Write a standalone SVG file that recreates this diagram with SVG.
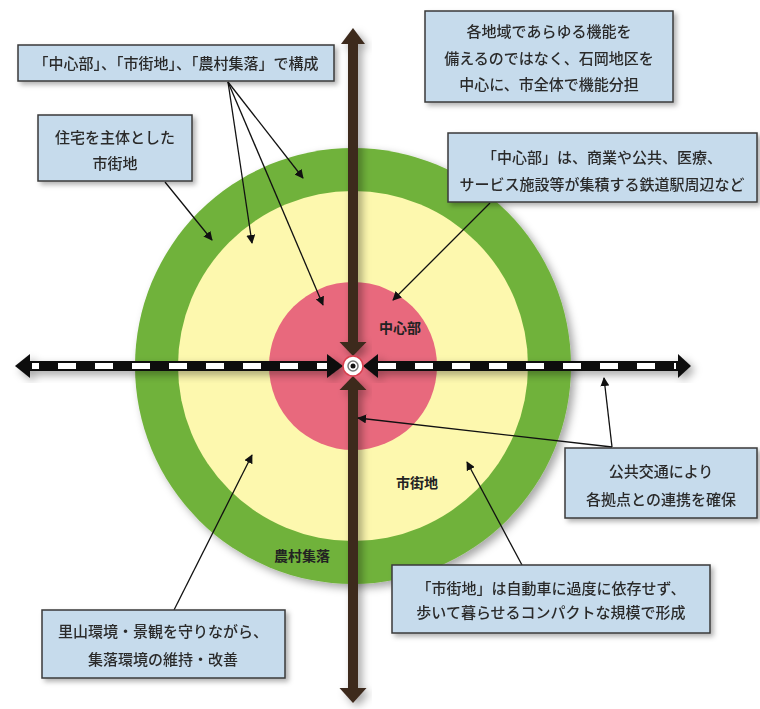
<svg xmlns="http://www.w3.org/2000/svg" width="760" height="709" viewBox="0 0 760 709">
<defs>
<style>
.box{fill:#c6dbec;stroke:#3a3a3a;stroke-width:1.5}
.t{font-family:"Noto Sans CJK JP","Noto Sans",sans-serif;font-size:15px;fill:#2b2b2b;text-anchor:middle;font-weight:500}
.lbl{font-family:"Noto Sans CJK JP","Noto Sans",sans-serif;font-size:14px;fill:#222;text-anchor:middle;font-weight:700}
.con{stroke:#111;stroke-width:1.3;fill:none;marker-end:url(#ah)}
.brown{fill:#3e2a1f}
</style>
<marker id="ah" viewBox="0 0 10 10" refX="9" refY="5" markerWidth="9" markerHeight="9" markerUnits="userSpaceOnUse" orient="auto">
<path d="M0,0 L10,5 L0,10 Z" fill="#111"/>
</marker>
<filter id="sh" x="-20%" y="-20%" width="140%" height="140%">
<feDropShadow dx="4" dy="4" stdDeviation="4" flood-color="#000" flood-opacity="0.35"/>
</filter>
<filter id="shs" x="-20%" y="-50%" width="140%" height="200%">
<feDropShadow dx="3" dy="3" stdDeviation="2.5" flood-color="#000" flood-opacity="0.3"/>
</filter>
</defs>
<g id="rings">
<circle cx="353" cy="366" r="218" fill="#70b23b" filter="url(#sh)"/>
<circle cx="353" cy="366" r="175" fill="#fdf8ae"/>
<circle cx="353" cy="366" r="84" fill="#e8697d"/>
</g>
<g id="rail" filter="url(#sh)">
<rect x="30" y="361" width="297" height="10" fill="#111"/>
<rect x="378" y="361" width="300" height="10" fill="#111"/>
<line x1="32" y1="366" x2="327" y2="366" stroke="#fff" stroke-width="6" stroke-dasharray="7 19 18 19 18 19 18 19 18 19 18 19 18 19 18 19 18 19 18 19 18 19"/>
<line x1="378" y1="366" x2="676" y2="366" stroke="#fff" stroke-width="6" stroke-dasharray="18 19"/>
<path d="M15,366 L30,354 L30,378 Z" fill="#111"/>
<path d="M343,366 L327,354 L327,378 Z" fill="#111"/>
<path d="M363,366 L378,354 L378,378 Z" fill="#111"/>
<path d="M691,366 L678,354 L678,378 Z" fill="#111"/>
</g>
<g id="axis" filter="url(#sh)">
<rect class="brown" x="348" y="43" width="10" height="300"/>
<path class="brown" d="M353,28 L365,44 L341,44 Z"/>
<path class="brown" d="M353,356 L366.5,342 L339.5,342 Z"/>
<rect class="brown" x="348" y="389" width="10" height="300"/>
<path class="brown" d="M353,376 L366.5,390 L339.5,390 Z"/>
<path class="brown" d="M353,703 L366.5,688 L339.5,688 Z"/>
</g>
<g id="hub">
<circle cx="353" cy="366" r="10" fill="#fff" stroke="#d9404f" stroke-width="1.5"/>
<circle cx="353" cy="366" r="5" fill="#fff" stroke="#777" stroke-width="1.5"/>
<circle cx="353" cy="366" r="2.5" fill="#111"/>
</g>
<g id="labels">
<text class="lbl" x="400" y="333">中心部</text>
<text class="lbl" x="417" y="488">市街地</text>
<text class="lbl" x="302" y="561">農村集落</text>
</g>
<g id="connectors">
<line class="con" x1="228" y1="82" x2="303" y2="178"/>
<line class="con" x1="228" y1="82" x2="252" y2="243"/>
<line class="con" x1="228" y1="82" x2="323" y2="305"/>
<line class="con" x1="165" y1="182" x2="212" y2="240"/>
<line class="con" x1="490" y1="203" x2="393" y2="300"/>
<line class="con" x1="612" y1="447" x2="604" y2="378"/>
<line class="con" x1="612" y1="447" x2="358" y2="418"/>
<line class="con" x1="522" y1="565" x2="467" y2="462"/>
<line class="con" x1="174" y1="610" x2="252" y2="455"/>
</g>
<g id="box-kousei" filter="url(#shs)">
<rect class="box" x="18" y="45" width="316" height="36"/>
<text class="t" x="176" y="68.5">「中心部」、「市街地」、「農村集落」で構成</text>
</g>
<g id="box-kinou" filter="url(#shs)">
<rect class="box" x="425" y="11" width="248" height="91"/>
<text class="t" x="549" y="37">各地域であらゆる機能を</text>
<text class="t" x="549" y="64">備えるのではなく、石岡地区を</text>
<text class="t" x="549" y="90">中心に、市全体で機能分担</text>
</g>
<g id="box-jutaku" filter="url(#shs)">
<rect class="box" x="38" y="115" width="154" height="66"/>
<text class="t" x="115" y="143">住宅を主体とした</text>
<text class="t" x="115" y="169">市街地</text>
</g>
<g id="box-chushin" filter="url(#shs)">
<rect class="box" x="448" y="133" width="309" height="69"/>
<text class="t" x="602" y="163">「中心部」は、商業や公共、医療、</text>
<text class="t" x="602" y="190">サービス施設等が集積する鉄道駅周辺など</text>
</g>
<g id="box-koutsu" filter="url(#shs)">
<rect class="box" x="565" y="448" width="192" height="70"/>
<text class="t" x="661" y="477">公共交通により</text>
<text class="t" x="661" y="505">各拠点との連携を確保</text>
</g>
<g id="box-shigaichi" filter="url(#shs)">
<rect class="box" x="392" y="565" width="318" height="68"/>
<text class="t" x="551" y="594">「市街地」は自動車に過度に依存せず、</text>
<text class="t" x="551" y="618">歩いて暮らせるコンパクトな規模で形成</text>
</g>
<g id="box-satoyama" filter="url(#shs)">
<rect class="box" x="42" y="610" width="243" height="68"/>
<text class="t" x="163" y="637">里山環境・景観を守りながら、</text>
<text class="t" x="163" y="665">集落環境の維持・改善</text>
</g>
</svg>
